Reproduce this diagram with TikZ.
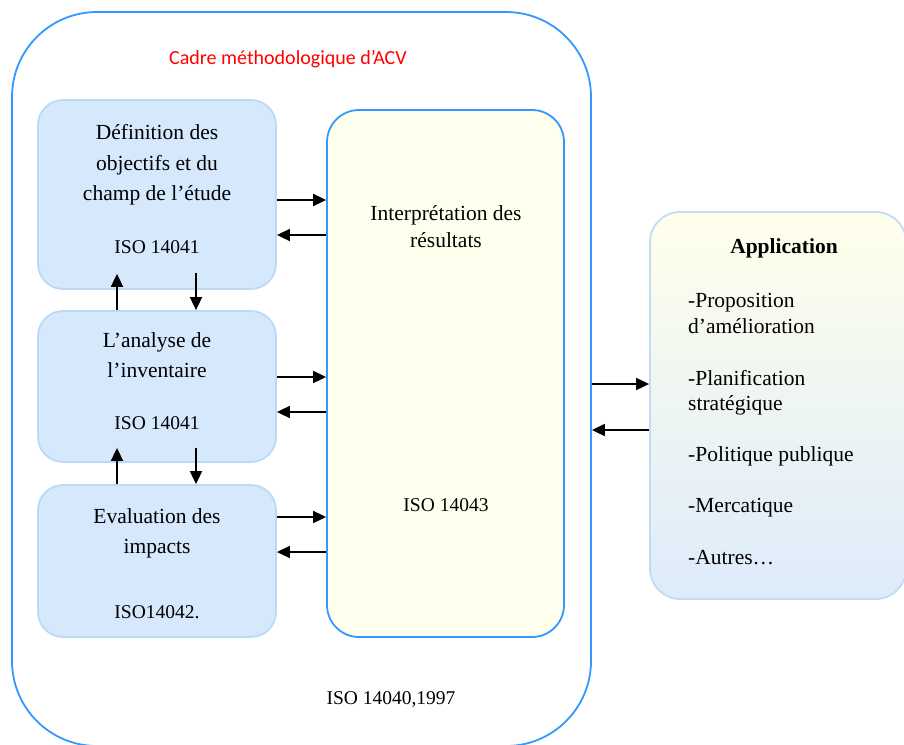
\documentclass[tikz,border=0pt]{standalone}
\usepackage{fontspec}
\setmainfont{Liberation Serif}
\newfontfamily\calfont{Carlito}
\usetikzlibrary{arrows.meta}
\definecolor{outerblue}{HTML}{3399FF}
\definecolor{lboxfill}{HTML}{D5E8FC}
\definecolor{lboxdraw}{HTML}{BBDAF8}
\definecolor{interpfill}{HTML}{FFFFEE}
\definecolor{apptop}{HTML}{FFFFEA}
\definecolor{appbot}{HTML}{DDEBFA}
\definecolor{appdraw}{HTML}{C0DCF7}
\definecolor{titlered}{HTML}{FF0000}
\tikzset{
  outerbox/.style={draw=outerblue, line width=1.8pt, rounded corners=85pt, inner sep=0pt},
  lbox/.style={draw=lboxdraw, fill=lboxfill, line width=1.8pt, rounded corners=25pt, minimum width=238pt, inner sep=0pt},
  interpbox/.style={draw=outerblue, fill=interpfill, line width=1.8pt, rounded corners=32pt, inner sep=0pt},
  appbox/.style={draw=appdraw, top color=apptop, bottom color=appbot, line width=1.8pt, rounded corners=30pt, inner sep=0pt},
  maintxt/.style={font=\fontsize{21.5}{26}\selectfont, anchor=base, inner sep=0pt},
  isotxt/.style={font=\fontsize{19.5}{24}\selectfont, anchor=base, inner sep=0pt},
  apptxt/.style={font=\fontsize{21.5}{26}\selectfont, anchor=base west, inner sep=0pt},
  arr/.style={line width=1.7pt, -{Triangle[length=13pt,width=12pt]}},
}
\begin{document}
\begin{tikzpicture}[x=1pt,y=-1pt]
\useasboundingbox (0,0) rectangle (904,744);
% outer frame
\node[outerbox, minimum width=579pt, minimum height=734pt] (outer) at (301.5,379) {};
\node[font=\calfont\fontsize{20}{24}\selectfont, text=titlered, anchor=base, inner sep=0pt] (title) at (288,64) {Cadre méthodologique d’ACV};
% left boxes
\node[lbox, minimum height=189pt] (b1) at (157,194.5) {};
\node[lbox, minimum height=151pt] (b2) at (157,386.5) {};
\node[lbox, minimum height=152pt] (b3) at (157,561) {};
% interpretation
\node[interpbox, minimum width=237pt, minimum height=527pt] (interp) at (445.5,373.5) {};
% application
\node[appbox, minimum width=256pt, minimum height=387pt] (app) at (778,405.5) {};
% texts box 1
\node[maintxt] (t1a) at (157,139) {Définition des};
\node[maintxt] (t1b) at (157,170) {objectifs et du};
\node[maintxt] (t1c) at (157,200) {champ de l’étude};
\node[isotxt] (t1d) at (157,253) {ISO 14041};
% texts box 2
\node[maintxt] (t2a) at (157,347) {L’analyse de};
\node[maintxt] (t2b) at (157,377) {l’inventaire};
\node[isotxt] (t2c) at (157,429) {ISO 14041};
% texts box 3
\node[maintxt] (t3a) at (157,523) {Evaluation des};
\node[maintxt] (t3b) at (157,553) {impacts};
\node[isotxt] (t3c) at (157,618) {ISO14042.};
% interpretation texts
\node[maintxt] (tia) at (446,220) {Interprétation des};
\node[maintxt] (tib) at (446,247) {résultats};
\node[isotxt] (tic) at (446,511) {ISO 14043};
% footer
\node[isotxt] (foot) at (391,704) {ISO 14040,1997};
% application texts
\node[maintxt, font=\bfseries\fontsize{21.5}{26}\selectfont] (ta0) at (784,253) {Application};
\node[apptxt] (ta1) at (688,307) {-Proposition};
\node[apptxt] (ta2) at (688,333) {d’amélioration};
\node[apptxt] (ta3) at (688,385) {-Planification};
\node[apptxt] (ta4) at (688,410) {stratégique};
\node[apptxt] (ta5) at (688,461) {-Politique publique};
\node[apptxt] (ta6) at (688,512) {-Mercatique};
\node[apptxt] (ta7) at (688,564) {-Autres…};
% horizontal arrows left boxes <-> interpretation
\draw[arr] (b1.east |- 0,200) -- (interp.west |- 0,200);
\draw[arr] (interp.west |- 0,235) -- (b1.east |- 0,235);
\draw[arr] (b2.east |- 0,377) -- (interp.west |- 0,377);
\draw[arr] (interp.west |- 0,412) -- (b2.east |- 0,412);
\draw[arr] (b3.east |- 0,517) -- (interp.west |- 0,517);
\draw[arr] (interp.west |- 0,552) -- (b3.east |- 0,552);
% vertical arrows
\draw[arr] (b2.north -| 117,0) -- ([yshift=16pt]b1.south -| 117,0);
\draw[arr] ([yshift=17pt]b1.south -| 196,0) -- (b2.north -| 196,0);
\draw[arr] (b3.north -| 117,0) -- ([yshift=15pt]b2.south -| 117,0);
\draw[arr] ([yshift=15pt]b2.south -| 196,0) -- (b3.north -| 196,0);
% outer <-> application
\draw[arr] (outer.east |- 0,384) -- (app.west |- 0,384);
\draw[arr] (app.west |- 0,430) -- (outer.east |- 0,430);
\end{tikzpicture}
\end{document}
